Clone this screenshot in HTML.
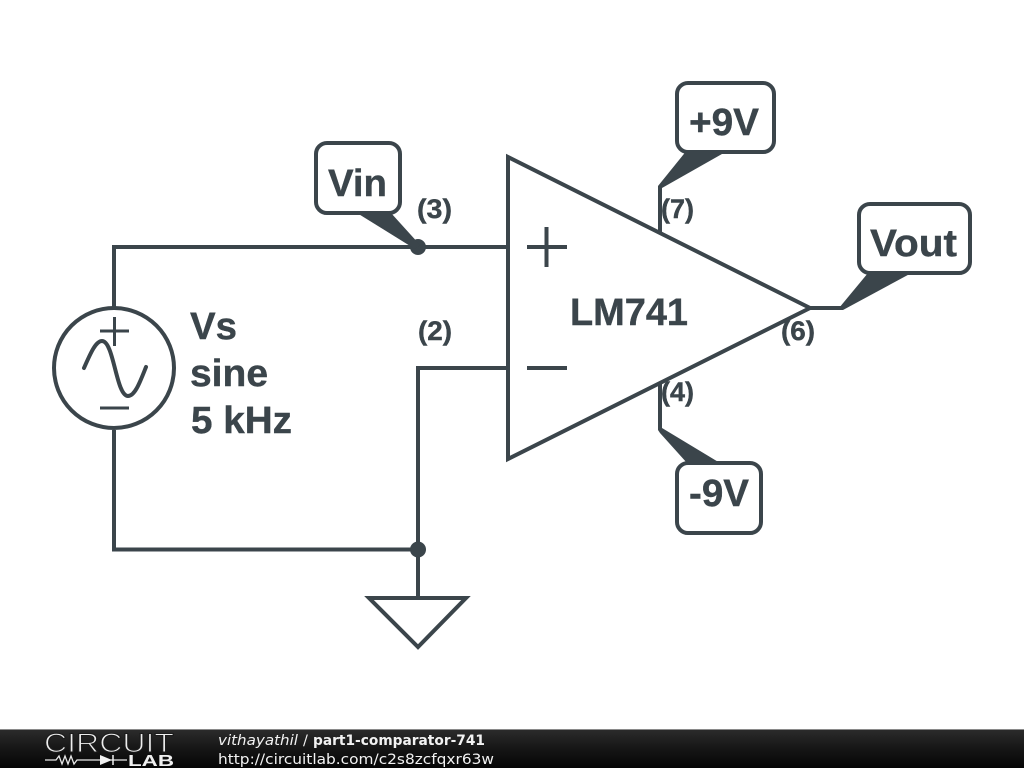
<!DOCTYPE html>
<html>
<head>
<meta charset="utf-8">
<style>
html,body{margin:0;padding:0;background:#fff;width:1024px;height:768px;overflow:hidden}
svg{display:block}
.t{font-family:"Liberation Sans",sans-serif;font-weight:bold;fill:#3b454b;stroke:#3b454b;stroke-width:0.4}
.b{font-size:38px}
.s{font-size:26.500px}
</style>
</head>
<body>
<svg width="1024" height="768" viewBox="0 0 1024 768" xmlns="http://www.w3.org/2000/svg">
<defs>
<linearGradient id="bar" x1="0" y1="0" x2="0" y2="1">
<stop offset="0" stop-color="#2c2c2c"/><stop offset="0.5" stop-color="#161616"/><stop offset="1" stop-color="#050505"/>
</linearGradient>
</defs>
<rect width="1024" height="768" fill="#fff"/>
<g fill="none" stroke="#3b454b" stroke-width="4" stroke-linejoin="miter">
<path d="M508 157V459L810 308Z"/>
<path d="M114 308V247H508"/>
<path d="M114 430V549.500H418"/>
<path d="M508 368H418V598"/>
<path d="M369 598H466L418 647Z"/>
<path d="M810 308H841"/>
<path d="M660 232V187"/>
<path d="M660 384V430"/>
<circle cx="114" cy="368" r="60"/>
<path d="M527 247H567M546.500 227V267M527 368H567" stroke-width="4"/>
<path d="M100 331H129M114.500 317V346M100 408H129" stroke-width="3"/>
<path d="M84 368C91 352 96 341 102 341C114 341 116 396 128 396C135 396 140 382 146 367" stroke-linecap="round"/>
<rect x="677" y="83" width="97" height="69" rx="11"/>
<rect x="859" y="204" width="111" height="69" rx="11"/>
<rect x="316" y="143" width="84" height="70" rx="11"/>
<rect x="677" y="463" width="84" height="70" rx="11"/>
</g>
<g fill="#3b454b">
<circle cx="418" cy="247" r="8"/>
<circle cx="418" cy="549.500" r="8"/>
<path d="M658 186L685.500 152H725.500L662 188H658Z"/>
<path d="M839 308L868 273H911.500L843 310H839Z"/>
<path d="M357 213H391L420 245L415 249Z"/>
<path d="M658 430L662 428L720 463H687L660 433Z"/>
</g>
<text class="t b" x="689" y="135" textLength="70" lengthAdjust="spacingAndGlyphs">+9V</text>
<text class="t b" x="870" y="256" textLength="87" lengthAdjust="spacingAndGlyphs">Vout</text>
<text class="t b" x="328" y="196" textLength="59" lengthAdjust="spacingAndGlyphs">Vin</text>
<text class="t b" x="689" y="506" textLength="60" lengthAdjust="spacingAndGlyphs">-9V</text>
<text class="t b" x="570" y="325" textLength="118" lengthAdjust="spacingAndGlyphs">LM741</text>
<text class="t b" x="190" y="339" textLength="47" lengthAdjust="spacingAndGlyphs">Vs</text>
<text class="t b" x="190" y="386" textLength="78" lengthAdjust="spacingAndGlyphs">sine</text>
<text class="t b" x="191" y="433" textLength="101" lengthAdjust="spacingAndGlyphs">5 kHz</text>
<text class="t s" x="417" y="218" textLength="35" lengthAdjust="spacingAndGlyphs">(3)</text>
<text class="t s" x="418" y="340" textLength="34" lengthAdjust="spacingAndGlyphs">(2)</text>
<text class="t s" x="661" y="218" textLength="33" lengthAdjust="spacingAndGlyphs">(7)</text>
<text class="t s" x="661" y="401" textLength="33" lengthAdjust="spacingAndGlyphs">(4)</text>
<text class="t s" x="781" y="340" textLength="34" lengthAdjust="spacingAndGlyphs">(6)</text>
<rect x="0" y="729" width="1024" height="39" fill="url(#bar)"/>
<rect x="0" y="729" width="1024" height="1" fill="#8a8a8a"/>
<text x="44" y="752" font-family="'Liberation Sans',sans-serif" font-size="27" fill="#eeeeee" stroke="#1c1c1c" stroke-width="1.100" textLength="130" lengthAdjust="spacingAndGlyphs">CIRCUIT</text>
<path d="M45 760H56L59 756L62 764L65 756L68 764L71 756L74 764L77 760H127" fill="none" stroke="#e8e8e8" stroke-width="1.300"/>
<path d="M100 755L112 760L100 765Z" fill="#f0f0f0"/>
<path d="M113 755V765" stroke="#f0f0f0" stroke-width="1.500"/>
<text x="128" y="766" font-family="'Liberation Sans',sans-serif" font-weight="bold" font-size="16" fill="#f0f0f0" textLength="46" lengthAdjust="spacingAndGlyphs">LAB</text>
<text x="218" y="745" font-family="'DejaVu Sans',sans-serif" font-size="14.500" font-style="italic" fill="#f2f2f2" textLength="80" lengthAdjust="spacingAndGlyphs">vithayathil</text>
<text x="303" y="745" font-family="'DejaVu Sans',sans-serif" font-size="14.500" fill="#f2f2f2">/</text>
<text x="313" y="745" font-family="'DejaVu Sans',sans-serif" font-size="14.500" font-weight="bold" fill="#f2f2f2" textLength="172" lengthAdjust="spacingAndGlyphs">part1-comparator-741</text>
<text x="218" y="764" font-family="'DejaVu Sans',sans-serif" font-size="14.500" fill="#f2f2f2" textLength="276" lengthAdjust="spacingAndGlyphs">http://circuitlab.com/c2s8zcfqxr63w</text>
</svg>
</body>
</html>
